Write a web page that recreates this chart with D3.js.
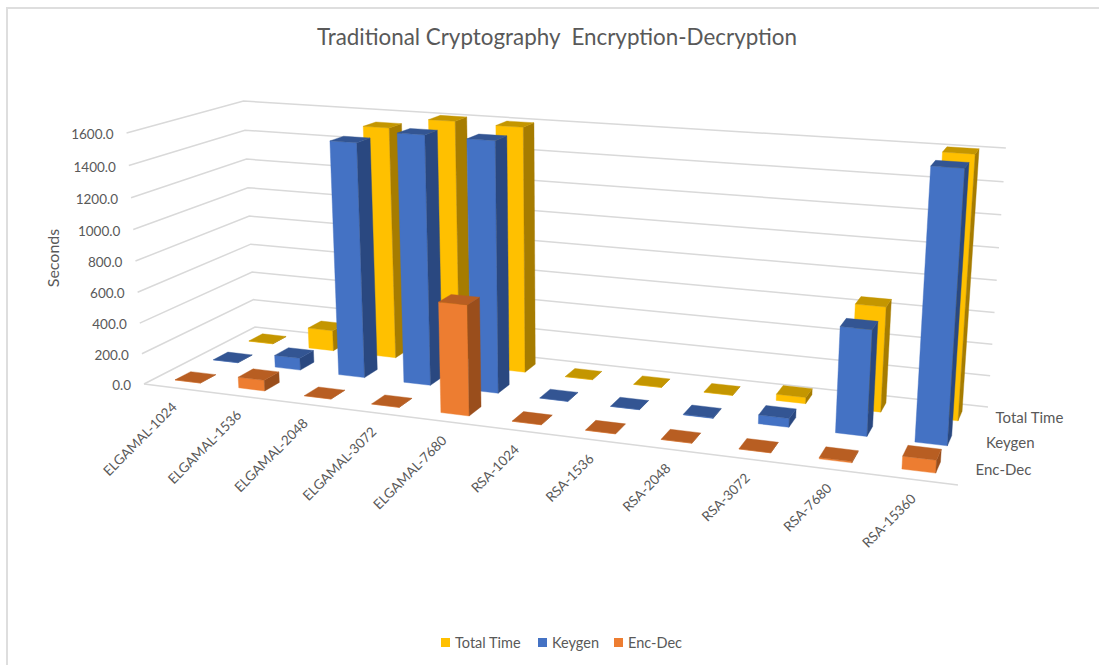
<!DOCTYPE html>
<html><head><meta charset="utf-8">
<script src="https://cdn.jsdelivr.net/npm/d3@7"></script>
<style>html,body{margin:0;background:#fff}svg{display:block}text{font-family:Lato,"Noto Sans",sans-serif;fill:#595959;white-space:pre}</style>
</head><body><svg id="c" width="1099" height="665"></svg>
<script>
const categories=["ELGAMAL-1024","ELGAMAL-1536","ELGAMAL-2048","ELGAMAL-3072","ELGAMAL-7680","RSA-1024","RSA-1536","RSA-2048","RSA-3072","RSA-7680","RSA-15360"];
const seriesFront=["Enc-Dec","Keygen","Total Time"];
const legendOrder=["Total Time","Keygen","Enc-Dec"];
const totalTime=[2,140,1540,1610,1600,1,1,2,40,660,1610];
const keygen=[1,80,1520,1597,1590,1,1,4,55,645,1610];
const encDec=[1,70,1,1,690,1,1,1,1,8,75];
const valueTicks=[0,200,400,600,800,1000,1200,1400,1600];
const title="Traditional Cryptography  Encryption-Decryption";
const yLabel="Seconds";
const values={"Total Time":totalTime,"Keygen":keygen,"Enc-Dec":encDec};
const colors={"Total Time":{front:"#FFC000",side:"#A67C00",top:"#C49600"},
 "Keygen":{front:"#4472C4",side:"#2A4880",top:"#335593"},
 "Enc-Dec":{front:"#ED7D31",side:"#9A4E1C",top:"#B85E22"}};

function solve(A,b){const n=b.length,M=A.map((r,i)=>[...r,b[i]]);
 for(let i=0;i<n;i++){let p=i;for(let k=i+1;k<n;k++)if(Math.abs(M[k][i])>Math.abs(M[p][i]))p=k;
  [M[i],M[p]]=[M[p],M[i]];
  for(let k=0;k<n;k++)if(k!==i){const f=M[k][i]/M[i][i];for(let j=i;j<=n;j++)M[k][j]-=f*M[i][j];}}
 return M.map((r,i)=>r[n]/r[i]);}
// camera calibration: screen location of the plot box corners
const floorPts=[[0,0,144,384],[0,1,255,327],[1,1,988,407],[1,0,958,485]];
const topPts=[[0,0,127,134],[0,1,243,102],[1,1,1006,146]];
const A8=[],b8=[];
floorPts.forEach(([u,v,x,y])=>{A8.push([u,v,1,0,0,0,-u*x,-v*x]);b8.push(x);A8.push([0,0,0,u,v,1,-u*y,-v*y]);b8.push(y);});
const H=solve(A8,b8);
const hom=(u,v)=>[H[0]*u+H[1]*v+H[2],H[3]*u+H[4]*v+H[5],H[6]*u+H[7]*v+1];
const An=[[0,0,0],[0,0,0],[0,0,0]],bn=[0,0,0];
topPts.forEach(([u,v,tx,ty])=>{const [X,Y,W]=hom(u,v);
 [[[1,0,-tx],tx*W-X],[[0,1,-ty],ty*W-Y]].forEach(([r,s])=>{for(let i=0;i<3;i++){bn[i]+=r[i]*s;for(let j=0;j<3;j++)An[i][j]+=r[i]*r[j];}});});
const C=solve(An,bn);
function project(u,v,h){const [X,Y,W]=hom(u,v),w=W+h*C[2];return [(X+h*C[0])/w,(Y+h*C[1])/w];}

const xS=d3.scaleBand(categories,[0,1]).paddingInner(0.6).paddingOuter(0.3);
const zS=d3.scaleBand(seriesFront,[0,1]).paddingInner(0.6).paddingOuter(0.3);
const yS=d3.scaleLinear([0,1600],[0,1]);
const svg=d3.select("#c");
const line=d3.line();

// frame
svg.append("path").attr("d",line([[7,665],[7,8],[1099,8]])).attr("fill","none").attr("stroke","#DEDEDE").attr("stroke-width",2);

// grid
const grid=svg.append("g").attr("fill","none").attr("stroke","#D9D9D9").attr("stroke-width",1.5);
grid.selectAll("path.w").data(valueTicks).join("path").attr("class","w")
 .attr("d",t=>line([project(0,0,yS(t)),project(0,1,yS(t)),project(1,1,yS(t))]));
grid.append("path").attr("d",line([project(0,0,0),project(1,0,0)]));

// axis labels
svg.append("g").selectAll("text").data(valueTicks).join("text")
 .attr("x",t=>project(0,0,yS(t))[0]-13).attr("y",t=>project(0,0,yS(t))[1]+1.5).attr("dy","0.35em")
 .attr("text-anchor","end").attr("font-size",13.5).text(t=>t.toFixed(1));
svg.append("text").attr("transform","translate(53,258) rotate(-90)").attr("text-anchor","middle").attr("dy","0.35em").attr("font-size",16).text(yLabel);
svg.append("g").selectAll("text").data(categories).join("text")
 .attr("transform",c=>{const p=project(xS(c)+xS.bandwidth()/2,0,0);return `translate(${p[0]+2},${p[1]+20}) rotate(-45)`;})
 .attr("text-anchor","end").attr("font-size",13.5).text(c=>c);
svg.append("g").selectAll("text").data(seriesFront).join("text")
 .attr("x",s=>project(1,zS(s)+zS.bandwidth()/2,0)[0]+12).attr("y",s=>project(1,zS(s)+zS.bandwidth()/2,0)[1]-0.5)
 .attr("dy","0.35em").attr("font-size",15).text(s=>s);

// bars
const rows=[];
[...seriesFront].reverse().forEach(s=>categories.forEach((c,i)=>rows.push({s,c,v:values[s][i]})));
const faces=d=>{const u0=xS(d.c),u1=u0+xS.bandwidth(),v0=zS(d.s),v1=v0+zS.bandwidth(),h=yS(d.v);
 return {front:[[u0,v0,0],[u1,v0,0],[u1,v0,h],[u0,v0,h]],
  side:[[u1,v0,0],[u1,v1,0],[u1,v1,h],[u1,v0,h]],
  top:[[u0,v0,h],[u1,v0,h],[u1,v1,h],[u0,v1,h]]};};
const bar=svg.append("g").selectAll("g").data(rows).join("g");
["front","side","top"].forEach(f=>bar.append("path")
 .attr("d",d=>line(faces(d)[f].map(p=>project(...p)))+"Z")
 .attr("fill",d=>colors[d.s][f]).attr("stroke",d=>colors[d.s][f]).attr("stroke-width",0.4));

// title and legend
svg.append("text").attr("x",557).attr("y",37).attr("dy","0.35em").attr("text-anchor","middle").attr("font-size",22.4).text(title);
const legendX={"Total Time":441,"Keygen":538,"Enc-Dec":614};
const lg=svg.append("g").selectAll("g").data(legendOrder).join("g").attr("transform",s=>`translate(${legendX[s]},638)`);
lg.append("rect").attr("width",9).attr("height",9).attr("fill",s=>colors[s].front);
lg.append("text").attr("x",14).attr("y",4.5).attr("dy","0.35em").attr("font-size",14.5).text(s=>s);
</script></body></html>
